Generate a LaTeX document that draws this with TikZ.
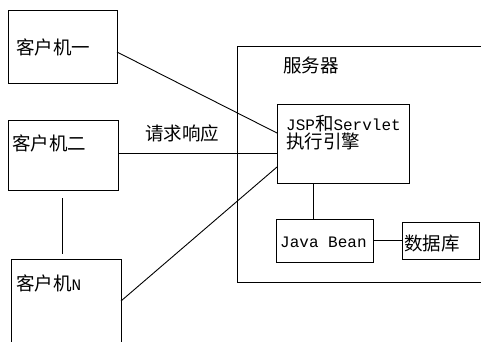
\documentclass[tikz,border=0pt]{standalone}
\usepackage{fontspec}
\setmainfont{Noto Sans CJK SC}
\newfontfamily\latmono{Liberation Mono}
\newcommand{\cjkt}{\fontsize{18.5}{18}\selectfont}
\newcommand{\latt}{\latmono\fontsize{16}{18}\selectfont}
\begin{document}
\begin{tikzpicture}[x=1pt,y=-1pt,
  box/.style={draw=black,line width=1pt,inner sep=0pt,outer sep=0pt,anchor=north west},
  lbl/.style={inner sep=0pt,anchor=west,font=\cjkt},
  conn/.style={draw=black,line width=0.9pt}]
\useasboundingbox (0,0) rectangle (481,341);
\clip (0,0) rectangle (481,341);
\fill[white] (0,0) rectangle (481,341);
% server frame (extends past the right edge)
\node[box,minimum width=260pt,minimum height=236pt] (srv) at (237,46) {};
\node[lbl] (srvt) at (283,65) {服务器};
% clients
\node[box,minimum width=109pt,minimum height=73pt] (c1) at (8,10) {};
\node[box,minimum width=110pt,minimum height=70pt] (c2) at (8,120) {};
\node[box,minimum width=110pt,minimum height=95pt] (cN) at (11,259) {};
\node[lbl] (c1t) at (16,47) {客户机一};
\node[lbl] (c2t) at (12,143) {客户机二};
\node[lbl] (cNt) at (16,283) {客户机\latt N};
% engine, bean, database
\node[box,minimum width=132pt,minimum height=79pt] (jsp) at (277,104) {};
\node[lbl,align=left,anchor=north west] (jspt) at (286,115) {{\latt JSP}和{\latt Servlet}\\执行引擎};
\node[box,minimum width=97pt,minimum height=43pt] (bean) at (276,219) {};
\node[lbl,font=\latt] (beant) at (280,242) {Java Bean};
\node[box,minimum width=77pt,minimum height=37pt] (db) at (402,222) {};
\node[lbl] (dbt) at (404,243) {数据库};
% label on connector
\node[lbl] (req) at (145,133) {请求响应};
% connectors
\draw[conn] ([yshift=-5.5pt]c1.east) -- ([yshift=10.5pt]jsp.west);
\draw[conn] ([yshift=2pt]c2.east) -- ([yshift=2pt]c2.east -| jsp.west);
\draw[conn] ([yshift=5.5pt]cN.east) -- ([yshift=-23.5pt]jsp.west);
\coordinate (vtop) at ([xshift=-1pt,yshift=-8pt]c2.south);
\draw[conn,shorten >=5pt] (vtop) -- (vtop |- cN.north);
\draw[conn] ([xshift=-11.5pt]bean.north) -- ([xshift=-11.5pt]bean.north |- jsp.south);
\draw[conn] (bean.east) -- (db.west);
\end{tikzpicture}
\end{document}
